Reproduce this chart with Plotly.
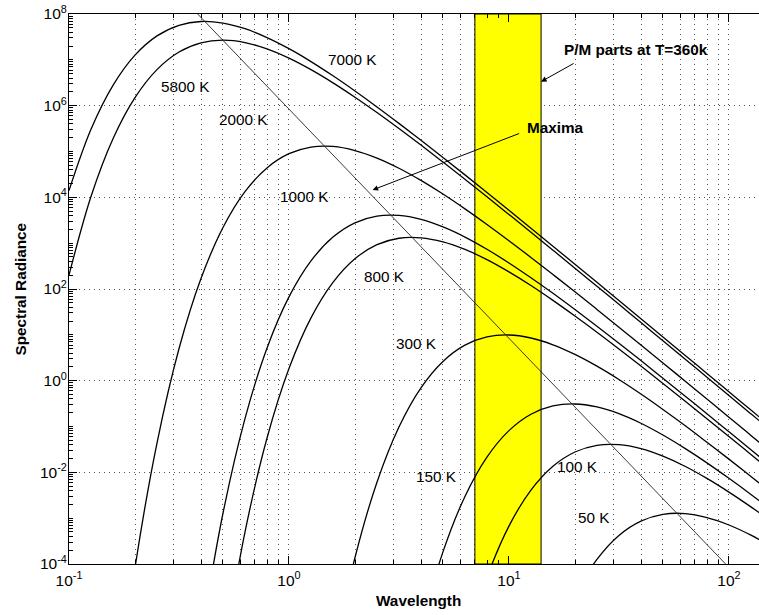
import numpy as np
import plotly.graph_objects as go

# ---------------- data ----------------
wavelength = [0.1, 0.1259, 0.1585, 0.1995, 0.2512, 0.3162, 0.3981, 0.5012, 0.631, 0.7943,
              1.0, 1.259, 1.585, 1.995, 2.512, 3.162, 3.981, 5.012, 6.31, 7.943,
              10.0, 12.59, 15.85, 19.95, 25.12, 31.62, 39.81, 50.12, 63.1, 79.43,
              100.0, 125.9, 158.5]

radiance_7000 = [1.41e4, 3.06e5, 2.78e6, 1.265e7, 3.33e7, 5.67e7, 6.86e7, 6.34e7, 4.77e7, 3.06e7,
                 1.75e7, 9.15e6, 4.48e6, 2.09e6, 9.40e5, 4.11e5, 1.76e5, 7.43e4, 3.09e4, 1.275e4,
                 5.22e3, 2.12e3, 860, 347, 140, 56.1, 22.5, 9.00, 3.60, 1.44,
                 0.573, 0.229, 0.0912]
radiance_5800 = [201, 1.04e4, 1.90e5, 1.50e6, 6.12e6, 1.48e7, 2.35e7, 2.69e7, 2.38e7, 1.73e7,
                 1.09e7, 6.10e6, 3.15e6, 1.53e6, 7.07e5, 3.16e5, 1.38e5, 5.88e4, 2.47e4, 1.03e4,
                 4.23e3, 1.73e3, 703, 285, 115, 46.2, 18.5, 7.42, 2.97, 1.19,
                 0.474, 0.189, 0.0755]
radiance_2000 = [None, None, 2.31e-8, 8.26e-5, 0.0435, 4.96, 169, 2.20e3, 1.33e4, 4.39e4,
                 8.95e4, 1.25e5, 1.29e5, 1.05e5, 7.20e4, 4.32e4, 2.34e4, 1.18e4, 5.60e3, 2.56e3,
                 1.13e3, 489, 207, 86.8, 35.9, 14.7, 6.01, 2.44, 0.986, 0.397,
                 0.160, 0.0640, 0.0256]
radiance_1000 = [None, None, None, None, None, None, 2.40e-6, 1.28e-3, 0.149, 5.12,
                 67.2, 410, 1.36e3, 2.78e3, 3.89e3, 4.02e3, 3.30e3, 2.26e3, 1.36e3, 736,
                 370, 176, 80.5, 35.6, 15.4, 6.54, 2.74, 1.13, 0.465, 0.190,
                 0.0770, 0.0311, 0.0125]
radiance_800 = [None, None, None, None, None, None, None, 9.79e-7, 4.98e-4, 0.0553,
                1.84, 23.5, 140, 458, 926, 1.28e3, 1.31e3, 1.07e3, 731, 437,
                236, 119, 56.4, 25.7, 11.4, 4.92, 2.09, 0.872, 0.361, 0.148,
                0.0605, 0.0245, 0.00991]
radiance_300 = [None, None, None, None, None, None, None, None, None, None,
                None, None, 8.59e-7, 1.37e-4, 6.08e-3, 0.0976, 0.698, 2.63, 5.96, 9.01,
                9.92, 8.53, 6.07, 3.74, 2.07, 1.06, 0.510, 0.235, 0.105, 0.0454,
                0.0194, 0.00812, 0.00337]
radiance_150 = [None, None, None, None, None, None, None, None, None, None,
                None, None, None, None, None, None, 4.09e-6, 1.84e-4, 2.98e-3, 0.0215,
                0.0813, 0.185, 0.281, 0.310, 0.267, 0.191, 0.118, 0.0651, 0.0333, 0.0161,
                0.00740, 0.00330, 0.00143]
radiance_100 = [None, None, None, None, None, None, None, None, None, None,
                None, None, None, None, None, None, None, None, 1.49e-6, 5.12e-5,
                6.72e-4, 4.10e-3, 0.0136, 0.0278, 0.0389, 0.0402, 0.0330, 0.0226, 0.0136, 0.00736,
                0.00370, 0.00176, 8.05e-4]
radiance_50 = [None, None, None, None, None, None, None, None, None, None,
               None, None, None, None, None, None, None, None, None, None,
               None, None, 1.55e-6, 2.05e-5, 1.26e-4, 4.21e-4, 8.65e-4, 1.21e-3, 1.26e-3, 1.03e-3,
               7.10e-4, 4.26e-4, 2.31e-4]

curve_names = ["7000 K", "5800 K", "2000 K", "1000 K", "800 K", "300 K", "150 K", "100 K", "50 K"]
curve_values = [radiance_7000, radiance_5800, radiance_2000, radiance_1000, radiance_800,
                radiance_300, radiance_150, radiance_100, radiance_50]

# Wien maxima line (end points)
maxima_wavelength = [0.35, 100.0]
maxima_radiance = [1.6e8, 8.41e-5]

# P/M parts band (wavelength limits)
band_wavelength = [7.0, 14.0]

x_tick_values = [0.1, 1, 10, 100]
x_tick_labels = ["10<sup>-1</sup>", "10<sup>0</sup>", "10<sup>1</sup>", "10<sup>2</sup>"]
y_tick_values = [1e-4, 1e-2, 1, 1e2, 1e4, 1e6, 1e8]
y_tick_labels = ["10<sup>-4</sup>", "10<sup>-2</sup>", "10<sup>0</sup>", "10<sup>2</sup>",
                 "10<sup>4</sup>", "10<sup>6</sup>", "10<sup>8</sup>"]

# label positions (wavelength, radiance)
label_pos = {
    "7000 K": (1.94, 1.03e7),
    "5800 K": (0.3385, 2.56e6),
    "2000 K": (0.621, 4.89e5),
    "1000 K": (1.176, 1.02e4),
    "800 K": (2.718, 184),
    "300 K": (3.786, 6.37),
    "150 K": (4.696, 8.15e-3),
    "100 K": (20.59, 1.35e-2),
    "50 K": (24.34, 1.02e-3),
}

FONT = "Liberation Sans, Arial, Helvetica, sans-serif"
x_range = [0.1, 137.0]
y_range = [1e-4, 1e8]

fig = go.Figure()

# yellow band
fig.add_trace(go.Scatter(
    x=[band_wavelength[0], band_wavelength[1], band_wavelength[1], band_wavelength[0], band_wavelength[0]],
    y=[y_range[0], y_range[0], y_range[1], y_range[1], y_range[0]],
    mode="lines", fill="toself", fillcolor="#ffff00",
    line=dict(color="black", width=1), hoverinfo="skip", showlegend=False))

for name, vals in zip(curve_names, curve_values):
    fig.add_trace(go.Scatter(x=wavelength, y=vals, mode="lines", name=name,
                             line=dict(color="black", width=1.3, shape="spline", smoothing=1.0),
                             showlegend=False))

fig.add_trace(go.Scatter(x=maxima_wavelength, y=maxima_radiance, mode="lines",
                         line=dict(color="#222222", width=0.9), showlegend=False))

annotations = []
for name in curve_names:
    lx, ly = label_pos[name]
    annotations.append(dict(x=np.log10(lx), y=np.log10(ly), xref="x", yref="y", text=name,
                            showarrow=False, font=dict(family=FONT, size=15.3, color="black"),
                            xanchor="center", yanchor="middle"))

# P/M parts annotation and arrow
annotations.append(dict(x=np.log10(37.8), y=np.log10(1.64e7), xref="x", yref="y",
                        text="<b>P/M parts at T=360k</b>", showarrow=False,
                        font=dict(family=FONT, size=15.3, color="black"),
                        xanchor="center", yanchor="middle"))
annotations.append(dict(x=np.log10(14.0), y=np.log10(3.34e6), xref="x", yref="y", text="",
                        showarrow=True, arrowhead=2, arrowsize=1.1, arrowwidth=1, arrowcolor="black",
                        ax=34, ay=-19))
# Maxima annotation and arrow
annotations.append(dict(x=np.log10(16.2), y=np.log10(3.32e5), xref="x", yref="y",
                        text="<b>Maxima</b>", showarrow=False,
                        font=dict(family=FONT, size=15.3, color="black"),
                        xanchor="center", yanchor="middle"))
annotations.append(dict(x=np.log10(2.40), y=np.log10(1.45e4), xref="x", yref="y", text="",
                        showarrow=True, arrowhead=2, arrowsize=1.1, arrowwidth=1, arrowcolor="black",
                        ax=148, ay=-57))

# axis titles
annotations.append(dict(x=0.507, y=-0.0655, xref="paper", yref="paper", text="<b>Wavelength</b>",
                        showarrow=False, font=dict(family=FONT, size=15.3, color="black"),
                        xanchor="center", yanchor="middle"))
annotations.append(dict(x=-0.0717, y=0.5, xref="paper", yref="paper", text="<b>Spectral Radiance</b>",
                        showarrow=False, textangle=-90, font=dict(family=FONT, size=15.3, color="black"),
                        xanchor="center", yanchor="middle"))

x_minor = [m * 10.0 ** e for e in range(-1, 3) for m in range(2, 10)]
y_minor = [m * 10.0 ** e for e in range(-4, 8) for m in range(1, 10) if not (m == 1 and e % 2 == 0)]

grid_style = dict(gridcolor="#555555", griddash="1px,4px", gridwidth=1)

fig.update_layout(
    width=759, height=615,
    margin=dict(l=69, r=0, t=14, b=51, autoexpand=False),
    paper_bgcolor="white", plot_bgcolor="white",
    font=dict(family=FONT, size=15.5, color="black"),
    annotations=annotations,
    xaxis=dict(type="log", range=[np.log10(x_range[0]), np.log10(x_range[1])], automargin=False,
               tickmode="array", tickvals=x_tick_values, ticktext=x_tick_labels,
               ticks="inside", ticklen=8, tickcolor="black", tickwidth=1,
               showline=True, linecolor="black", linewidth=1, mirror="ticks",
               showgrid=True, **grid_style, zeroline=False,
               tickfont=dict(family=FONT, size=15.5, color="black"),
               ticklabelstandoff=2,
               minor=dict(tickmode="array", tickvals=x_minor, ticks="inside", ticklen=4,
                          tickcolor="black", showgrid=True, **grid_style)),
    yaxis=dict(type="log", range=[np.log10(y_range[0]), np.log10(y_range[1])], automargin=False,
               tickmode="array", tickvals=y_tick_values, ticktext=y_tick_labels,
               ticks="inside", ticklen=8, tickcolor="black", tickwidth=1,
               showline=True, linecolor="black", linewidth=1, mirror=False,
               showgrid=True, **grid_style, zeroline=False,
               tickfont=dict(family=FONT, size=15.5, color="black"),
               ticklabelstandoff=-2,
               minor=dict(tickmode="array", tickvals=y_minor, ticks="inside", ticklen=4,
                          tickcolor="black", showgrid=False)),
)

fig.write_html("out.html",
               config={"displayModeBar": False},
               post_script="document.body.style.margin='0px';document.body.style.overflow='hidden';")
